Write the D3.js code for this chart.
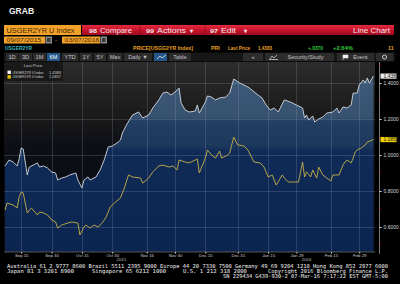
<!DOCTYPE html>
<html><head><meta charset="utf-8">
<script src="https://cdn.jsdelivr.net/npm/d3@7"></script>
<style>html,body{margin:0;padding:0;background:#000;overflow:hidden}svg{display:block}</style>
</head><body>
<svg id="c" width="400" height="284"></svg>
<script>
// ---------- DATA ----------
const seriesNames = ["USGER2YR U Index", "USGER5YR U Index"];
const lastValues = [1.4383, 1.0857];
const dates2y = ["2015-09-07","2015-09-09","2015-09-11","2015-09-13","2015-09-14","2015-09-15","2015-09-16","2015-09-18","2015-09-19","2015-09-21","2015-09-23","2015-09-24","2015-09-26","2015-09-28","2015-09-30","2015-10-02","2015-10-03","2015-10-05","2015-10-07","2015-10-09","2015-10-12","2015-10-13","2015-10-15","2015-10-16","2015-10-18","2015-10-19","2015-10-22","2015-10-24","2015-10-26","2015-10-28","2015-10-30","2015-11-02","2015-11-03","2015-11-04","2015-11-06","2015-11-09","2015-11-12","2015-11-14","2015-11-17","2015-11-19","2015-11-22","2015-11-24","2015-11-26","2015-11-28","2015-11-30","2015-12-02","2015-12-03","2015-12-05","2015-12-07","2015-12-10","2015-12-11","2015-12-12","2015-12-15","2015-12-16","2015-12-18","2015-12-20","2015-12-22","2015-12-25","2015-12-27","2015-12-29","2016-01-01","2016-01-05","2016-01-07","2016-01-10","2016-01-12","2016-01-14","2016-01-16","2016-01-18","2016-01-20","2016-01-23","2016-01-26","2016-01-29","2016-02-01","2016-02-02","2016-02-03","2016-02-04","2016-02-06","2016-02-07","2016-02-09","2016-02-11","2016-02-13","2016-02-16","2016-02-18","2016-02-19","2016-02-21","2016-02-23","2016-02-25","2016-02-26","2016-02-28","2016-02-29","2016-03-02","2016-03-03","2016-03-04","2016-03-05","2016-03-07"];
const values2y = [0.939,0.972,0.961,0.939,0.978,1.039,1.033,0.889,0.933,0.944,
0.956,0.933,0.939,0.928,0.906,0.900,0.861,0.872,0.878,0.889,
0.900,0.861,0.817,0.861,0.878,0.861,0.878,0.917,0.972,1.044,
1.050,1.072,1.083,1.122,1.167,1.222,1.239,1.206,1.222,1.261,
1.306,1.344,1.350,1.333,1.350,1.372,1.289,1.250,1.239,1.244,
1.278,1.233,1.294,1.328,1.322,1.306,1.317,1.322,1.344,1.422,
1.400,1.378,1.361,1.333,1.317,1.278,1.250,1.261,1.239,1.306,
1.294,1.278,1.261,1.206,1.222,1.194,1.217,1.183,1.200,1.211,
1.233,1.239,1.261,1.233,1.267,1.261,1.278,1.344,1.344,1.389,
1.417,1.400,1.428,1.400,1.4383];
const dates5y = ["2015-09-07","2015-09-08","2015-09-11","2015-09-13","2015-09-14","2015-09-15","2015-09-16","2015-09-18","2015-09-20","2015-09-23","2015-09-24","2015-09-26","2015-09-28","2015-09-30","2015-10-02","2015-10-03","2015-10-05","2015-10-08","2015-10-10","2015-10-13","2015-10-14","2015-10-16","2015-10-17","2015-10-19","2015-10-21","2015-10-23","2015-10-25","2015-10-27","2015-10-29","2015-10-31","2015-11-03","2015-11-05","2015-11-07","2015-11-09","2015-11-13","2015-11-14","2015-11-17","2015-11-19","2015-11-22","2015-11-24","2015-11-27","2015-11-29","2015-12-01","2015-12-02","2015-12-05","2015-12-07","2015-12-10","2015-12-11","2015-12-12","2015-12-15","2015-12-16","2015-12-18","2015-12-20","2015-12-22","2015-12-23","2015-12-26","2015-12-27","2015-12-29","2015-12-31","2016-01-03","2016-01-05","2016-01-08","2016-01-11","2016-01-13","2016-01-15","2016-01-17","2016-01-19","2016-01-22","2016-01-23","2016-01-25","2016-01-27","2016-01-30","2016-02-01","2016-02-02","2016-02-03","2016-02-05","2016-02-06","2016-02-08","2016-02-09","2016-02-11","2016-02-13","2016-02-15","2016-02-16","2016-02-19","2016-02-21","2016-02-22","2016-02-23","2016-02-25","2016-02-26","2016-02-27","2016-02-28","2016-03-01","2016-03-03","2016-03-04","2016-03-07"];
const values5y = [0.694,0.733,0.722,0.706,0.767,0.794,0.789,0.678,0.706,0.667,
0.683,0.678,0.667,0.639,0.628,0.594,0.611,0.622,0.628,0.622,
0.556,0.600,0.611,0.594,0.611,0.600,0.622,0.656,0.711,0.733,
0.761,0.817,0.889,0.878,0.872,0.844,0.872,0.906,0.939,0.944,
0.933,0.939,0.917,0.972,0.961,0.956,0.972,0.978,0.900,0.983,
1.028,1.000,0.983,1.022,0.983,1.000,1.011,1.100,1.056,1.050,
1.028,0.961,0.956,0.933,0.878,0.889,0.833,0.889,0.872,0.850,
0.850,0.850,0.961,0.878,0.906,0.878,0.917,0.872,0.933,0.889,
0.872,0.856,0.889,0.889,0.944,0.961,0.972,0.956,0.983,1.017,
1.028,1.039,1.056,1.072,1.0857];
const yTicks = [0.6, 0.8, 1.0, 1.2, 1.4];
const yMinorTicks = [0.5, 0.7, 0.9, 1.1, 1.3, 1.5];
const xTickDates = ["2015-09-15","2015-09-30","2015-10-15","2015-10-30","2015-11-16","2015-11-30","2015-12-15","2015-12-31","2016-01-15","2016-01-29","2016-02-15","2016-02-29"];
const yearLabels = ["2015", "2016"];
const dateRange = ["2015-09-07", "2016-03-07"];
const footer1 = "Australia 61 2 9777 8600 Brazil 5511 2395 9000 Europe 44 20 7330 7500 Germany 49 69 9204 1210 Hong Kong 852 2977 6000";
const footer2 = ["Japan 81 3 3201 8900", "Singapore 65 6212 1000", "U.S. 1 212 318 2000", "Copyright 2016 Bloomberg Finance L.P."];
const footer3 = "SN 229434 G439-930-2 07-Mar-16  7:17:22 EST  GMT-5:00";

// ---------- DRAW ----------
const parse = d3.timeParse("%Y-%m-%d");
const svg = d3.select("#c");
const SANS = "'Liberation Sans', Arial, sans-serif";
const MONO = "'DejaVu Sans Mono', monospace";
svg.append("rect").attr("width", 400).attr("height", 284).attr("fill", "#000");

const defs = svg.append("defs");
function vgrad(id, y1, y2, stops) {
  const g = defs.append("linearGradient").attr("id", id).attr("gradientUnits", "userSpaceOnUse")
    .attr("x1", 0).attr("x2", 0).attr("y1", y1).attr("y2", y2);
  stops.forEach(s => g.append("stop").attr("offset", s[0]).attr("stop-color", s[1]));
}
const P = {l: 4, r: 375, t: 62, b: 252};
vgrad("bgG", P.t, P.b, [[0, "#2c2c2c"], [0.3, "#191919"], [0.45, "#0d0f16"], [1, "#080a12"]]);
vgrad("areaG", P.t, P.b, [[0, "#415d7d"], [0.29, "#37526f"], [0.31, "#233f63"], [0.44, "#1c385d"], [0.47, "#102b57"], [1, "#0b2550"]]);
vgrad("redG", 25, 35, [[0, "#e02a40"], [0.5, "#c8142c"], [1, "#9c0b1f"]]);

function txt(s, xx, yy, o) {
  const t = svg.append("text").attr("x", xx).attr("y", yy).attr("fill", o.fill || "#fff")
    .attr("font-family", o.family || SANS).attr("font-size", o.size || 6).text(s);
  if (o.weight) t.attr("font-weight", o.weight);
  if (o.anchor) t.attr("text-anchor", o.anchor);
  if (o.len) t.attr("textLength", o.len).attr("lengthAdjust", "spacingAndGlyphs");
  return t;
}

// header
txt("GRAB", 9, 13.5, {fill: "#f0f0f0", size: 8.5, weight: "bold"});
svg.append("rect").attr("x", 4).attr("y", 25).attr("width", 77).attr("height", 10).attr("fill", "#f2a12b");
txt(seriesNames[0], 6.5, 33.2, {fill: "#4a2a00", size: 7.6, len: 68});
svg.append("rect").attr("x", 82).attr("y", 25).attr("width", 312).attr("height", 10).attr("fill", "url(#redG)");
[140, 205].forEach(d => svg.append("line").attr("x1", d).attr("x2", d).attr("y1", 25).attr("y2", 35).attr("stroke", "#7a0814").attr("stroke-width", 0.6));
const redTxt = [["98", 89, 6.2, 8], ["Compare", 100, 7.8, 32], ["99", 146, 6.2, 8], ["Actions", 157, 7.8, 29], ["\u25BE", 190, 6, 0],
  ["97", 210, 6.2, 8], ["Edit", 221, 7.8, 15], ["\u25BE", 244, 6, 0]];
redTxt.forEach(t => txt(t[0], t[1], 33.1, {fill: "#f4e8ea", size: t[2], weight: t[2] < 7 ? "bold" : null, len: t[3] || null}));
txt("Line Chart", 353, 33.1, {fill: "#f4e8ea", size: 7.6, len: 37});

// date row
const dateBoxes = [[4, 41], [62, 38]];
const fmtIn = d3.timeFormat("%m/%d/%Y");
dateBoxes.forEach((b, i) => {
  svg.append("rect").attr("x", b[0]).attr("y", 36.5).attr("width", b[1]).attr("height", 7).attr("fill", "#f2a12b");
  txt(fmtIn(parse(dateRange[i])), b[0] + 2.5, 42.3, {fill: "#4a2a00", size: 6.2, len: 35});
  svg.append("rect").attr("x", b[0] + b[1] + 0.5).attr("y", 36.5).attr("width", 6.5).attr("height", 7).attr("fill", "#8a8a8a");
  svg.append("rect").attr("x", b[0] + b[1] + 2).attr("y", 38).attr("width", 3.5).attr("height", 4).attr("fill", "#3a3a3a");
});
txt("-", 55, 42, {fill: "#f2a12b", size: 6});

// info row
const infoTxt = [["USGER2YR", 5, "#3cb8c4", 5.8, 27], ["PRICE[USGG2YR Index]", 133, "#e9a022", 5.3, 60],
  ["PRI", 211, "#e9a022", 5.3, 0], ["Last Price", 228, "#e9a022", 5.3, 22], ["1.4383", 258, "#e9a022", 5.3, 14],
  ["+.0370", 308, "#2fcc3a", 5.3, 15], ["+2.64%", 333, "#2fcc3a", 5.3, 20], ["11", 388, "#e9a022", 5.3, 0]];
infoTxt.forEach(t => txt(t[0], t[1], 50, {fill: t[2], size: t[3], weight: "bold", len: t[4] || null}));

// button row
svg.append("rect").attr("x", 4).attr("y", 52.5).attr("width", 391).attr("height", 9).attr("fill", "#161616");
const btns = [["1D", 6, 12], ["3D", 19, 13], ["1M", 33, 13], ["6M", 47, 13, 1], ["YTD", 62, 16], ["1Y", 80, 12], ["5Y", 94, 12],
  ["Max", 108, 14], ["Daily \u25BC", 124, 28], ["", 154, 13, 1], ["Table", 169, 22],
  ["\u00AB", 243, 20], ["Security/Study", 265, 69], ["Event", 337, 37], ["", 376, 17]];
btns.forEach(b => {
  svg.append("rect").attr("x", b[1]).attr("y", 53).attr("width", b[2]).attr("height", 8)
    .attr("fill", b[3] ? "#24588c" : "#2c2c2c");
  if (b[0]) txt(b[0], b[1] + b[2] / 2 + (b[0] === "Security/Study" ? 6 : b[0] === "Event" ? 5 : 0), 59.4,
    {anchor: "middle", fill: b[3] ? "#ffffff" : "#c4c4c4", size: 5.6});
});
svg.append("path").attr("d", "M157 59 L160 56 L162 58 L166 55").attr("stroke", "#fff").attr("fill", "none").attr("stroke-width", 0.7);
svg.append("path").attr("d", "M270 59 L272 56 L274 58 L277 55 M269 59.5 L278 59.5").attr("stroke", "#ddd").attr("fill", "none").attr("stroke-width", 0.7);
svg.append("path").attr("d", "M343 60 L343 55 L348 55 L348 58 L343 58").attr("stroke", "#eee").attr("fill", "#eee").attr("stroke-width", 0.6);
svg.append("circle").attr("cx", 384.5).attr("cy", 57).attr("r", 2).attr("fill", "none").attr("stroke", "#ccc").attr("stroke-width", 1);

// plot
const x = d3.scaleTime().domain(dateRange.map(parse)).range([5, 373.4]);
const y = d3.scaleLinear().domain([0.6, 1.4]).range([227, 83]);
svg.append("rect").attr("x", P.l).attr("y", P.t).attr("width", P.r - P.l).attr("height", P.b - P.t).attr("fill", "url(#bgG)");

const d2 = dates2y.map((d, i) => ({d: parse(d), v: values2y[i]}));
const d5 = dates5y.map((d, i) => ({d: parse(d), v: values5y[i]}));

svg.append("path").datum(d2).attr("fill", "url(#areaG)")
  .attr("d", d3.area().x(p => x(p.d)).y0(P.b).y1(p => y(p.v)));

const gridG = svg.append("g").attr("stroke", "#a8b4cc").attr("stroke-opacity", 0.2).attr("stroke-width", 1);
yTicks.forEach(v => gridG.append("line").attr("x1", P.l).attr("x2", P.r).attr("y1", Math.round(y(v)) + 0.5).attr("y2", Math.round(y(v)) + 0.5));
xTickDates.forEach(s => gridG.append("line").attr("y1", P.t).attr("y2", P.b).attr("x1", Math.round(x(parse(s))) + 0.5).attr("x2", Math.round(x(parse(s))) + 0.5));

const line = d3.line().x(p => x(p.d)).y(p => y(p.v));
svg.append("path").datum(d5).attr("fill", "none").attr("stroke", "#c6b046").attr("stroke-width", 0.9).attr("d", line);
svg.append("path").datum(d2).attr("fill", "none").attr("stroke", "#d4d8de").attr("stroke-width", 0.9).attr("d", line);

// legend
svg.append("rect").attr("x", 4).attr("y", 62).attr("width", 59).attr("height", 19).attr("fill", "#161616").attr("fill-opacity", 0.85);
txt("Last Price", 33, 67.3, {anchor: "middle", fill: "#c8c8c8", size: 4.2});
const legColors = ["#f4f4f4", "#e8c000"];
seriesNames.forEach((n, i) => {
  const yy = 73.8 + i * 4.6;
  svg.append("rect").attr("x", 7.5).attr("y", yy - 3.2).attr("width", 3.4).attr("height", 3.4).attr("fill", legColors[i]);
  txt(n, 12.5, yy, {fill: "#d0d0d0", size: 3.9, len: 31});
  txt(lastValues[i].toFixed(4), 61, yy, {anchor: "end", fill: "#d0d0d0", size: 3.9});
});

// right axis
const yAxis = svg.append("g").attr("transform", "translate(379.5,0)")
  .call(d3.axisRight(y).tickValues(yTicks).tickSize(2).tickFormat(d3.format(".4f")));
yAxis.select(".domain").attr("stroke", "#7a7a7a").attr("d", `M0,${P.t}V${P.b + 2}`);
yAxis.selectAll(".tick line").attr("stroke", "#e0e0e0");
yAxis.selectAll("text").attr("fill", "#d8d8d8").attr("font-family", SANS).attr("font-size", 5).attr("x", 4).attr("dy", "0.35em");
yMinorTicks.forEach(v => svg.append("rect").attr("x", 379).attr("y", y(v) - 0.5).attr("width", 1.5).attr("height", 1).attr("fill", "#b03030"));
const boxCol = [["#e8e8e8", "#111"], ["#f0d000", "#222"]];
lastValues.forEach((v, i) => {
  svg.append("rect").attr("x", 380.5).attr("y", y(v) - 2.6).attr("width", 16).attr("height", 5.2).attr("fill", boxCol[i][0]);
  txt(v.toFixed(4), 383.5, y(v) + 1.8, {fill: boxCol[i][1], size: 5});
});

// bottom axis
const xAxis = svg.append("g").attr("transform", `translate(0,${P.b})`)
  .call(d3.axisBottom(x).tickValues(xTickDates.map(parse)).tickSize(1.5).tickFormat(d3.timeFormat("%b %d")));
xAxis.select(".domain").attr("stroke", "#555").attr("d", `M${P.l},0H${P.r}`);
xAxis.selectAll(".tick line").attr("stroke", "#ddd");
xAxis.selectAll("text").attr("fill", "#cfcfcf").attr("font-family", SANS).attr("font-size", 4.3).attr("y", 2.2);
const yearSpans = [[dateRange[0], "2015-12-31"], ["2016-01-01", dateRange[1]]];
yearLabels.forEach((t, i) => {
  const cx = (x(parse(yearSpans[i][0])) + x(parse(yearSpans[i][1]))) / 2;
  txt(t, cx, 260.5, {anchor: "middle", fill: "#bfbfbf", size: 4.3});
});

// footer
const FO = {fill: "#f2f2f2", family: MONO, size: 5.4};
txt(footer1, 7, 267.5, Object.assign({len: 381}, FO));
const f2x = [[7, 67], [92, 74], [183, 64], [268, 120]];
footer2.forEach((s, i) => txt(s, f2x[i][0], 272.8, Object.assign({len: f2x[i][1]}, FO)));
txt(footer3, 223, 278.3, Object.assign({len: 165}, FO));
</script>
</body></html>
